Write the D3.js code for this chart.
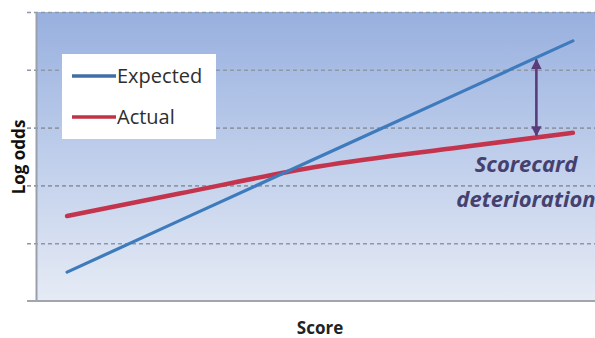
<!DOCTYPE html>
<html>
<head>
<meta charset="utf-8">
<script src="https://cdn.jsdelivr.net/npm/d3@7"></script>
<style>
  html, body { margin: 0; padding: 0; background: #ffffff; }
  svg { display: block; }
</style>
</head>
<body>
<svg id="chart" width="595" height="338"></svg>
<script>
// ---- data ----
const seriesNames = ["Expected", "Actual"];
const scoreValues = [1, 5, 10, 15, 19];
const expectedValues = [0.5, 1.39, 2.5, 3.61, 4.5];
const actualValues = [1.47, 1.86, 2.33, 2.66, 2.91];
const gridTicks = [1, 2, 3, 4, 5];
const arrowScore = 17.7;
const annotationLines = ["Scorecard", "deterioration"];
const xTitle = "Score";
const yTitle = "Log odds";

// ---- layout ----
const W = 595, H = 338;
const plot = { left: 37, top: 12, right: 595, bottom: 301 };
const svg = d3.select("#chart");

const x = d3.scaleLinear().domain([0, 20]).range([39, 601]);
const y = d3.scaleLinear().domain([0, 5]).range([plot.bottom, plot.top]);

// background gradient
const defs = svg.append("defs");
const grad = defs.append("linearGradient").attr("id", "bg").attr("x1", 0).attr("y1", 0).attr("x2", 0).attr("y2", 1);
grad.append("stop").attr("offset", "0%").attr("stop-color", "#98b0df");
grad.append("stop").attr("offset", "55%").attr("stop-color", "#c3d1ec");
grad.append("stop").attr("offset", "100%").attr("stop-color", "#e6ebf5");

svg.append("rect")
  .attr("x", plot.left).attr("y", plot.top)
  .attr("width", plot.right - plot.left).attr("height", plot.bottom - plot.top)
  .attr("fill", "url(#bg)");

// dashed gridlines (extend left of axis as ticks)
const grid = svg.append("g")
  .attr("transform", `translate(27,0)`)
  .call(d3.axisRight(y).tickValues(gridTicks).tickSize(W - 27).tickFormat(""));
grid.select(".domain").remove();
grid.selectAll(".tick line")
  .attr("stroke", "#8f97a6")
  .attr("stroke-width", 1.6)
  .attr("stroke-dasharray", "4,3");

// axis lines
svg.append("line").attr("x1", 36.5).attr("x2", 36.5).attr("y1", plot.top).attr("y2", plot.bottom)
  .attr("stroke", "#9aa0ab").attr("stroke-width", 2);
const xAxis = svg.append("g")
  .attr("transform", `translate(0,${plot.bottom})`)
  .call(d3.axisBottom(x).tickValues([]).tickSizeOuter(0));
xAxis.select(".domain").attr("d", `M27,0H${W}`).attr("stroke", "#a0a5ae").attr("stroke-width", 2.2);

// lines
const lineGen = d3.line()
  .x((d, i) => x(scoreValues[i]))
  .y(d => y(d))
  .curve(d3.curveMonotoneX);

svg.append("path").datum(actualValues)
  .attr("d", lineGen).attr("fill", "none")
  .attr("stroke", "#c4344c").attr("stroke-width", 4.5).attr("stroke-linecap", "round");
svg.append("path").datum(expectedValues)
  .attr("d", lineGen).attr("fill", "none")
  .attr("stroke", "#3d7bbd").attr("stroke-width", 3.2).attr("stroke-linecap", "round");

// arrow between lines
const arrowColor = "#5a3c7c";
const expAt = d3.scaleLinear().domain(scoreValues).range(expectedValues)(arrowScore);
const actAt = d3.scaleLinear().domain(scoreValues).range(actualValues)(arrowScore);
defs.append("marker").attr("id", "ah").attr("viewBox", "0 0 10 10")
  .attr("refX", 9).attr("refY", 5).attr("markerWidth", 4).attr("markerHeight", 4)
  .attr("orient", "auto-start-reverse")
  .append("path").attr("d", "M0,0L10,5L0,10z").attr("fill", arrowColor);
svg.append("line")
  .attr("x1", x(arrowScore)).attr("x2", x(arrowScore))
  .attr("y1", y(expAt) + 2).attr("y2", y(actAt) - 2)
  .attr("stroke", arrowColor).attr("stroke-width", 2.6)
  .attr("marker-start", "url(#ah)").attr("marker-end", "url(#ah)");

// annotation
const ann = svg.append("text")
  .attr("font-family", "'Open Sans', sans-serif")
  .attr("font-style", "italic").attr("font-weight", "bold")
  .attr("font-size", 22).attr("fill", "#45416f")
  .attr("text-anchor", "middle");
ann.selectAll("tspan").data(annotationLines).join("tspan")
  .attr("x", 526).attr("y", (d, i) => 172 + i * 35)
  .text(d => d);

// legend
const legend = svg.append("g");
legend.append("rect").attr("x", 62).attr("y", 54).attr("width", 154).attr("height", 85).attr("fill", "#ffffff");
const legendColors = ["#3f6fa6", "#bf3345"];
seriesNames.forEach((name, i) => {
  const cy = 76 + i * 41;
  legend.append("line").attr("x1", 72).attr("x2", 116).attr("y1", cy).attr("y2", cy)
    .attr("stroke", legendColors[i]).attr("stroke-width", 3.5);
  legend.append("text").attr("x", 117).attr("y", cy + 7)
    .attr("font-family", "'Open Sans', sans-serif").attr("font-size", 20)
    .attr("fill", "#2e2e2e").text(name);
});

// axis titles
svg.append("text").attr("x", 320).attr("y", 334)
  .attr("text-anchor", "middle")
  .attr("font-family", "'Open Sans', sans-serif").attr("font-weight", "bold").attr("font-size", 17)
  .attr("fill", "#222222").text(xTitle);
svg.append("text")
  .attr("transform", "translate(25,157) rotate(-90)")
  .attr("text-anchor", "middle")
  .attr("font-family", "'Open Sans', sans-serif").attr("font-weight", "bold").attr("font-size", 17)
  .attr("fill", "#111111").text(yTitle);
</script>
</body>
</html>
